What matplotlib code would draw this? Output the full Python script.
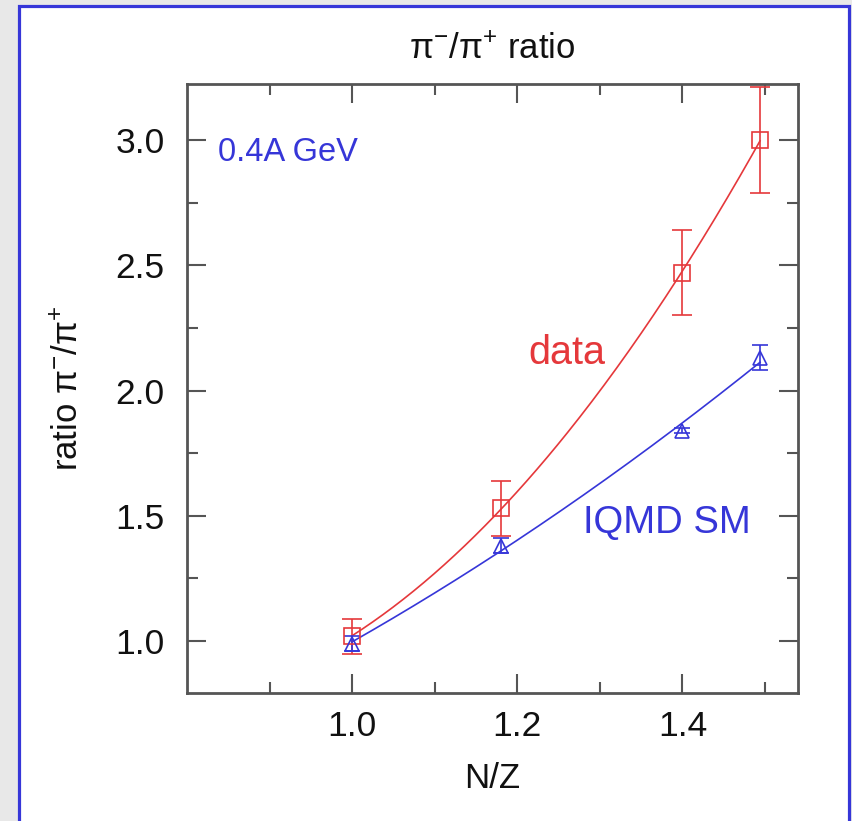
import numpy as np
import matplotlib
matplotlib.use("Agg")
import matplotlib.pyplot as plt
from matplotlib.patches import Rectangle
from matplotlib.ticker import MultipleLocator, FormatStrFormatter

plt.rcParams['font.family'] = ['Liberation Sans', 'DejaVu Sans']
plt.rcParams['mathtext.fontset'] = 'custom'
plt.rcParams['mathtext.rm'] = 'Liberation Sans'
plt.rcParams['mathtext.it'] = 'Liberation Sans:italic'

# N/Z of the colliding systems (Ca, Ru, Zr, Au)
nz = [1.0, 1.18, 1.4, 1.494]

# measured pi-/pi+ ratios
data_ratio = [1.02, 1.53, 2.47, 3.0]
data_err = [0.07, 0.11, 0.17, 0.21]

# IQMD soft-momentum-dependent calculation
iqmd_ratio = [0.99, 1.38, 1.84, 2.13]
iqmd_err = [0.03, 0.03, 0.01, 0.05]

red = '#e5383b'
blue = '#3636d8'
axcol = '#555555'

fig = plt.figure(figsize=(8.52, 8.21), dpi=100)
fig.patch.set_facecolor('#e8e8e8')
fig.patches.append(Rectangle((18.5 / 852, -0.05), (849 - 18.5) / 852, 1.05 - 6.5 / 821,
                             transform=fig.transFigure, facecolor='white',
                             edgecolor=blue, linewidth=2.3, zorder=-10))

ax = fig.add_axes([187 / 852, 1 - 693 / 821, (798 - 187) / 852, (693 - 84) / 821])
ax.set_zorder(5)
ax.set_facecolor('white')

# smooth quadratic fits through both sets
xs = np.linspace(nz[0], nz[-1], 200)
ax.plot(xs, np.polyval(np.polyfit(nz, data_ratio, 2), xs), color=red, lw=1.2)
ax.plot(xs, np.polyval(np.polyfit(nz, iqmd_ratio, 2), xs), color=blue, lw=1.2)

ax.errorbar(nz, data_ratio, yerr=data_err, fmt='s', ms=11, mfc='none', mec=red,
            mew=1.2, ecolor=red, elinewidth=1.2, capsize=7, capthick=1.2)
ax.errorbar(nz, iqmd_ratio, yerr=iqmd_err, fmt='^', ms=10, mfc='none', mec=blue,
            mew=1.2, ecolor=blue, elinewidth=1.2, capsize=6, capthick=1.2)

ax.set_xlim(0.8, 1.54)
ax.set_ylim(0.793, 3.223)
ax.set_xticks([1.0, 1.2, 1.4])
ax.set_xticks([0.9, 1.1, 1.3, 1.5], minor=True)
ax.yaxis.set_major_locator(MultipleLocator(0.5))
ax.yaxis.set_minor_locator(MultipleLocator(0.25))
ax.xaxis.set_major_formatter(FormatStrFormatter('%.1f'))
ax.yaxis.set_major_formatter(FormatStrFormatter('%.1f'))

ax.tick_params(which='both', direction='in', top=True, right=True, color=axcol,
               width=1.5, labelsize=25.5, labelcolor='#111111')
ax.tick_params(which='major', length=14)
ax.tick_params(axis='y', which='major', pad=16)
ax.tick_params(axis='x', which='major', pad=12)
ax.tick_params(which='minor', length=8)
for s in ax.spines.values():
    s.set_color(axcol)
    s.set_linewidth(2)

ax.set_title('π$^{-}$/π$^{+}$ ratio', fontsize=25, pad=18, color='#111111')
ax.set_xlabel('N/Z', fontsize=25, labelpad=14, color='#111111')
ax.set_ylabel('ratio π$^{-}$/π$^{+}$', fontsize=25, labelpad=22, color='#111111')

ax.text(0.837, 2.95, '0.4A GeV', color=blue, fontsize=23.5, va='center')
ax.text(1.214, 2.15, 'data', color=red, fontsize=28.5, va='center')
ax.text(1.28, 1.47, 'IQMD SM', color=blue, fontsize=27.5, va='center')

fig.savefig('out.png', dpi=100, facecolor=fig.get_facecolor())
